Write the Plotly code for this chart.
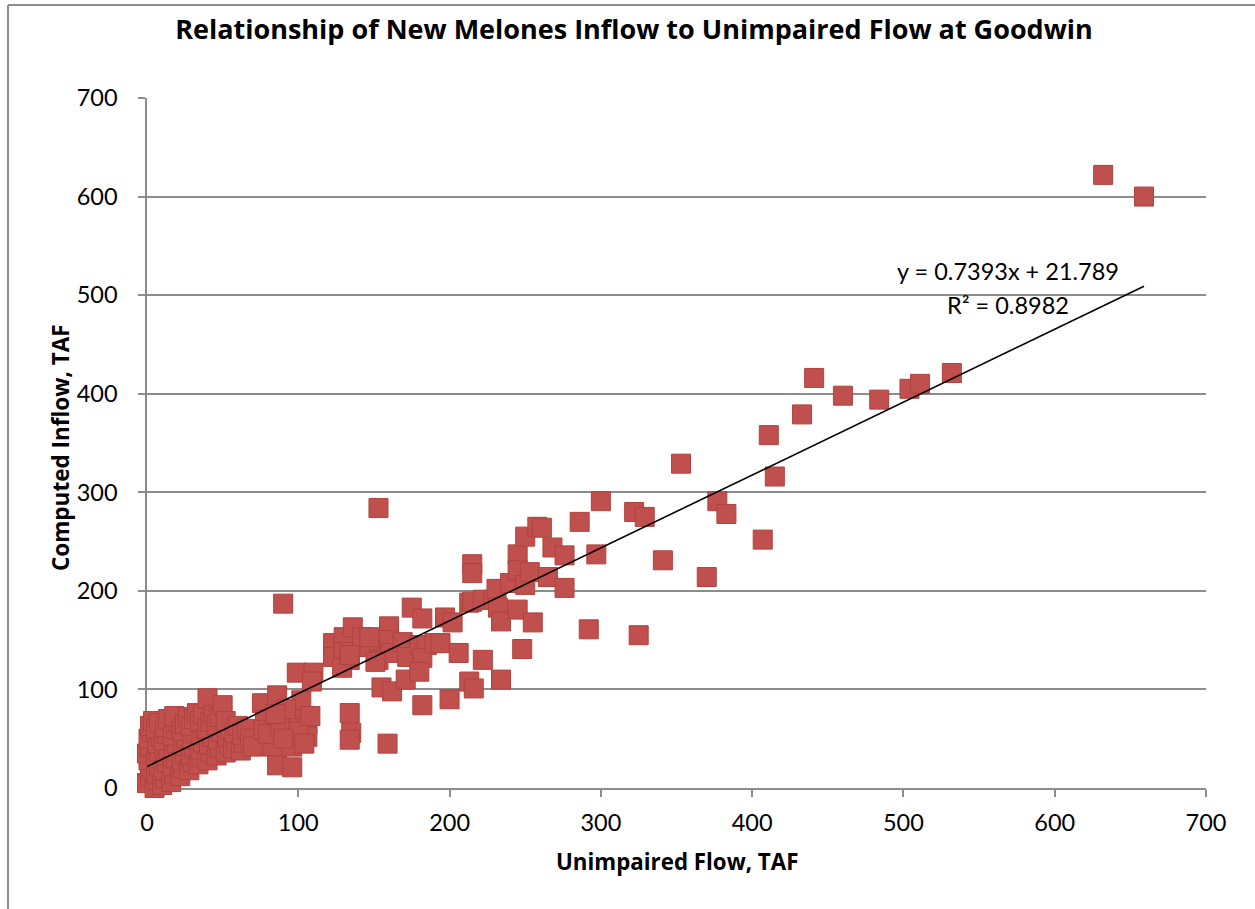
import plotly.graph_objects as go

# Unimpaired flow (TAF) and computed inflow (TAF)
unimpaired = [
    # dense cluster near origin
    0, 2, 3, 1, 0, 2, 1, 3, 2, 4,
    5, 7, 6, 8, 6, 8, 7, 9, 6, 8,
    10, 12, 11, 13, 12, 14, 11, 13, 12, 14,
    16, 18, 17, 19, 18, 20, 17, 19, 21, 18,
    22, 24, 23, 25, 24, 26, 23, 25, 27,
    28, 30, 29, 31, 30, 32, 29, 31, 33,
    34, 36, 35, 37, 36, 38, 35, 37,
    40, 42, 41, 43, 40, 42, 40, 44,
    46, 48, 47, 49, 46, 48, 50,
    52, 54, 53, 55, 52,
    57, 59, 58, 60, 62, 64, 63, 66, 68, 70,
    # 75-110
    76, 78, 77, 83, 86, 86, 96, 96, 96, 96, 102, 106, 106, 99, 110, 109, 90,
    80, 88, 92, 100, 104, 108, 85, 90,
    # 120-160
    123, 123, 130, 130, 136, 142, 147, 134, 129, 134, 153, 134, 135, 134,
    160, 160, 161, 151, 153, 159, 155, 162, 147,
    # 160-200
    169, 172, 171, 175, 182, 180, 185, 182, 180, 182, 190, 197, 194,
    # 200-260
    200, 202, 206, 213, 216, 213, 215, 215, 215, 222, 222, 229, 231, 232, 234,
    234, 240, 245, 245, 245, 248, 250, 250, 253, 255, 258, 261,
    # 260-360
    265, 268, 276, 276, 286, 292, 297, 300, 322, 329, 325, 341, 353,
    # 360+
    370, 377, 383, 407, 411, 415, 433, 441, 460, 484, 504, 511, 532, 632, 659,
]
computed = [
    5, 12, 20, 28, 35, 42, 50, 57, 63, 68,
    0, 8, 15, 22, 30, 37, 45, 52, 60, 66,
    3, 10, 18, 26, 33, 40, 48, 55, 62, 70,
    6, 14, 22, 30, 38, 45, 53, 60, 67, 73,
    12, 20, 28, 35, 43, 50, 58, 65, 72,
    18, 26, 34, 41, 49, 56, 63, 70, 76,
    24, 31, 39, 46, 54, 61, 68, 75,
    28, 36, 44, 52, 60, 67, 91, 74,
    33, 41, 49, 57, 64, 72, 84,
    36, 44, 52, 60, 68,
    40, 48, 56, 63, 38, 46, 54, 60, 50, 42,
    86, 69, 59, 42, 94, 23, 21, 42, 52, 72, 89, 64, 52, 117, 117, 108, 187,
    55, 62, 80, 57, 45, 73, 75, 50,
    147, 133, 153, 138, 163, 153, 143, 130, 122, 135, 130, 76, 56, 49,
    164, 150, 137, 128, 284, 45, 102, 98, 153,
    148, 133, 110, 183, 172, 145, 145, 132, 118, 84, 147, 173, 147,
    90, 168, 137, 108, 101, 188, 227, 218, 189, 191, 130, 191, 202, 183, 169,
    110, 208, 237, 221, 181, 141, 255, 206, 219, 168, 265, 264,
    214, 244, 236, 203, 270, 161, 237, 291, 280, 275, 155, 231, 329,
    214, 291, 278, 252, 358, 316, 379, 416, 398, 394, 405, 410, 421, 622, 600,
]

slope = 0.7393
intercept = 21.789
r_squared = 0.8982

x_ticks = [0, 100, 200, 300, 400, 500, 600, 700]
y_ticks = [0, 100, 200, 300, 400, 500, 600, 700]

FONT = "Lato"
BOLD_FONT = "Open Sans"
GRID = "#8C8C8C"

fig = go.Figure()
fig.add_trace(go.Scatter(
    x=unimpaired, y=computed, mode="markers",
    marker=dict(symbol="square", size=19, color="#C0504D",
                line=dict(color="#B0423F", width=1)),
    cliponaxis=False, showlegend=False, hoverinfo="x+y",
))
x_fit = [0, max(unimpaired)]
y_fit = [slope * v + intercept for v in x_fit]
fig.add_trace(go.Scatter(
    x=x_fit, y=y_fit, mode="lines",
    line=dict(color="black", width=1.6),
    cliponaxis=False, showlegend=False, hoverinfo="skip",
))

fig.update_layout(
    width=1255, height=909,
    margin=dict(l=147, r=49, t=98, b=121, pad=0),
    paper_bgcolor="white", plot_bgcolor="white",
    font=dict(family=FONT, color="black", size=23),
    title=dict(text="<b>Relationship of New Melones Inflow to Unimpaired Flow at Goodwin</b>",
               x=634 / 1255, xanchor="center", xref="container",
               y=1 - 30 / 909, yanchor="middle", yref="container",
               font=dict(family=BOLD_FONT, size=27, color="black")),
    xaxis=dict(range=[0, 700], tickvals=x_ticks, ticktext=[str(v) for v in x_ticks],
               showgrid=False, zeroline=False, showline=True, linecolor=GRID, linewidth=1.5,
               ticks="outside", ticklen=7, tickcolor=GRID, tickwidth=1.5,
               tickfont=dict(family=FONT, size=23.5), layer="below traces",
               ticklabelstandoff=6),
    yaxis=dict(range=[0, 700], tickvals=y_ticks, ticktext=[str(v) for v in y_ticks],
               showgrid=True, gridcolor=GRID, gridwidth=1.5, zeroline=False,
               showline=True, linecolor=GRID, linewidth=1.5,
               ticks="outside", ticklen=7, tickcolor=GRID, tickwidth=1.5,
               tickfont=dict(family=FONT, size=23.5), layer="below traces",
               ticklabelstandoff=16),
)

annotations = [
    dict(text="<b>Unimpaired Flow, TAF</b>", xref="paper", yref="paper",
         x=(677 - 147) / 1059, y=(788 - 862) / 690, xanchor="center", yanchor="middle",
         showarrow=False, font=dict(family=BOLD_FONT, size=22.3)),
    dict(text="<b>Computed Inflow, TAF</b>", xref="paper", yref="paper",
         x=(60 - 147) / 1059, y=(788 - 447) / 690, xanchor="center", yanchor="middle",
         textangle=-90, showarrow=False, font=dict(family=BOLD_FONT, size=22.5)),
    dict(text=f"y = {slope}x + {intercept}", xref="x", yref="y",
         x=569, y=524, xanchor="center", yanchor="middle", showarrow=False,
         font=dict(family=FONT, size=23.5)),
    dict(text=f"R² = {r_squared}", xref="x", yref="y",
         x=569, y=490, xanchor="center", yanchor="middle", showarrow=False,
         font=dict(family=FONT, size=23.5)),
]
fig.update_layout(annotations=annotations)

# outer chart frame (left and top edges visible in the picture)
fig.add_shape(type="line", xref="paper", yref="paper",
              x0=(8 - 147) / 1059, x1=(8 - 147) / 1059,
              y0=(788 - 915) / 690, y1=(788 - 5) / 690,
              line=dict(color=GRID, width=2))
fig.add_shape(type="line", xref="paper", yref="paper",
              x0=(8 - 147) / 1059, x1=(1260 - 147) / 1059,
              y0=(788 - 5) / 690, y1=(788 - 5) / 690,
              line=dict(color=GRID, width=2))

fig.write_html("out.html")
